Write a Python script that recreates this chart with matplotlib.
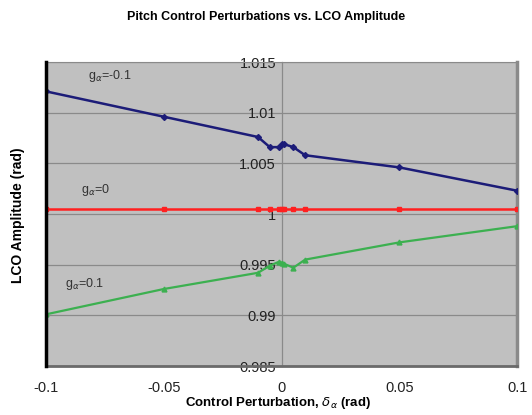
import matplotlib
matplotlib.use("Agg")
import matplotlib.pyplot as plt

plt.rcParams['font.family'] = ['Liberation Sans', 'DejaVu Sans']
plt.rcParams['mathtext.fontset'] = 'dejavusans'

# control perturbation (rad)
delta = [-0.1, -0.05, -0.01, -0.005, -0.001, 0.0, 0.001, 0.005, 0.01, 0.05, 0.1]

# LCO amplitude for each pitch gain
amp_gneg = [1.0121, 1.0096, 1.0076, 1.0066, 1.0066, 1.0069, 1.0069, 1.0066, 1.0058, 1.0046, 1.0023]
amp_g0 = [1.0005] * 11
amp_gpos = [0.9901, 0.9926, 0.9942, 0.9949, 0.9953, 0.9952, 0.9951, 0.9947, 0.9955, 0.9972, 0.9988]

xticks = [-0.1, -0.05, 0, 0.05, 0.1]
xticklabels = ['-0.1', '-0.05', '0', '0.05', '0.1']
yticks = [0.985, 0.99, 0.995, 1.0, 1.005, 1.01, 1.015]
yticklabels = ['0.985', '0.99', '0.995', '1', '1.005', '1.01', '1.015']

fig = plt.figure(figsize=(5.32, 4.15), dpi=100)
ax = fig.add_axes([0.0865, 0.118, 0.8855, 0.7326])
ax.set_facecolor('#c0c0c0')

ax.plot(delta, amp_gneg, color='#1c1c78', lw=1.8, marker='D', ms=3, zorder=3)
ax.plot(delta, amp_g0, color='#ff2020', lw=1.8, marker='s', ms=3.5, zorder=3)
ax.plot(delta, amp_gpos, color='#3cb050', lw=1.6, marker='^', ms=3.5, zorder=3)

ax.set_xlim(-0.1, 0.1)
ax.set_ylim(0.985, 1.015)

# horizontal gridlines
for y in yticks:
    ax.axhline(y, color='#8a8a8a', lw=0.9, zorder=1)

# y axis runs through x = 0
ax.spines['left'].set_position(('data', 0))
ax.spines['left'].set_color('#8a8a8a')
ax.spines['left'].set_linewidth(0.9)
ax.spines['left'].set_zorder(1)
ax.spines['top'].set_color('#8a8a8a')
ax.spines['right'].set_color('#8a8a8a')
ax.spines['right'].set_linewidth(2.5)
ax.spines['bottom'].set_color('#6a6a6a')
ax.spines['bottom'].set_linewidth(2.0)
ax.axvline(-0.1, color='black', lw=2.5, zorder=4, clip_on=False)

ax.set_yticks(yticks)
ax.set_yticklabels(yticklabels, fontsize=10.5, color='#222222')
ax.set_xticks(xticks)
ax.set_xticklabels(xticklabels, fontsize=10.5, color='#222222')
ax.tick_params(axis='both', length=0, pad=4)
ax.tick_params(axis='x', pad=10.5)

ax.text(-0.082, 1.0133, r'g$_\alpha$=-0.1', fontsize=9, color='#333333')
ax.text(-0.085, 1.0021, r'g$_\alpha$=0', fontsize=9, color='#333333')
ax.text(-0.092, 0.9928, r'g$_\alpha$=0.1', fontsize=9, color='#333333')

fig.text(0.5, 0.958, 'Pitch Control Perturbations vs. LCO Amplitude',
         ha='center', va='center', fontsize=9, fontweight='bold')
fig.text(0.034, 0.482, 'LCO Amplitude (rad)', rotation=90,
         ha='center', va='center', fontsize=10, fontweight='bold')
fig.text(0.522, 0.029, r'Control Perturbation, $\delta_\alpha$ (rad)',
         ha='center', va='center', fontsize=9.5, fontweight='bold')

fig.savefig('out.png', dpi=100)
